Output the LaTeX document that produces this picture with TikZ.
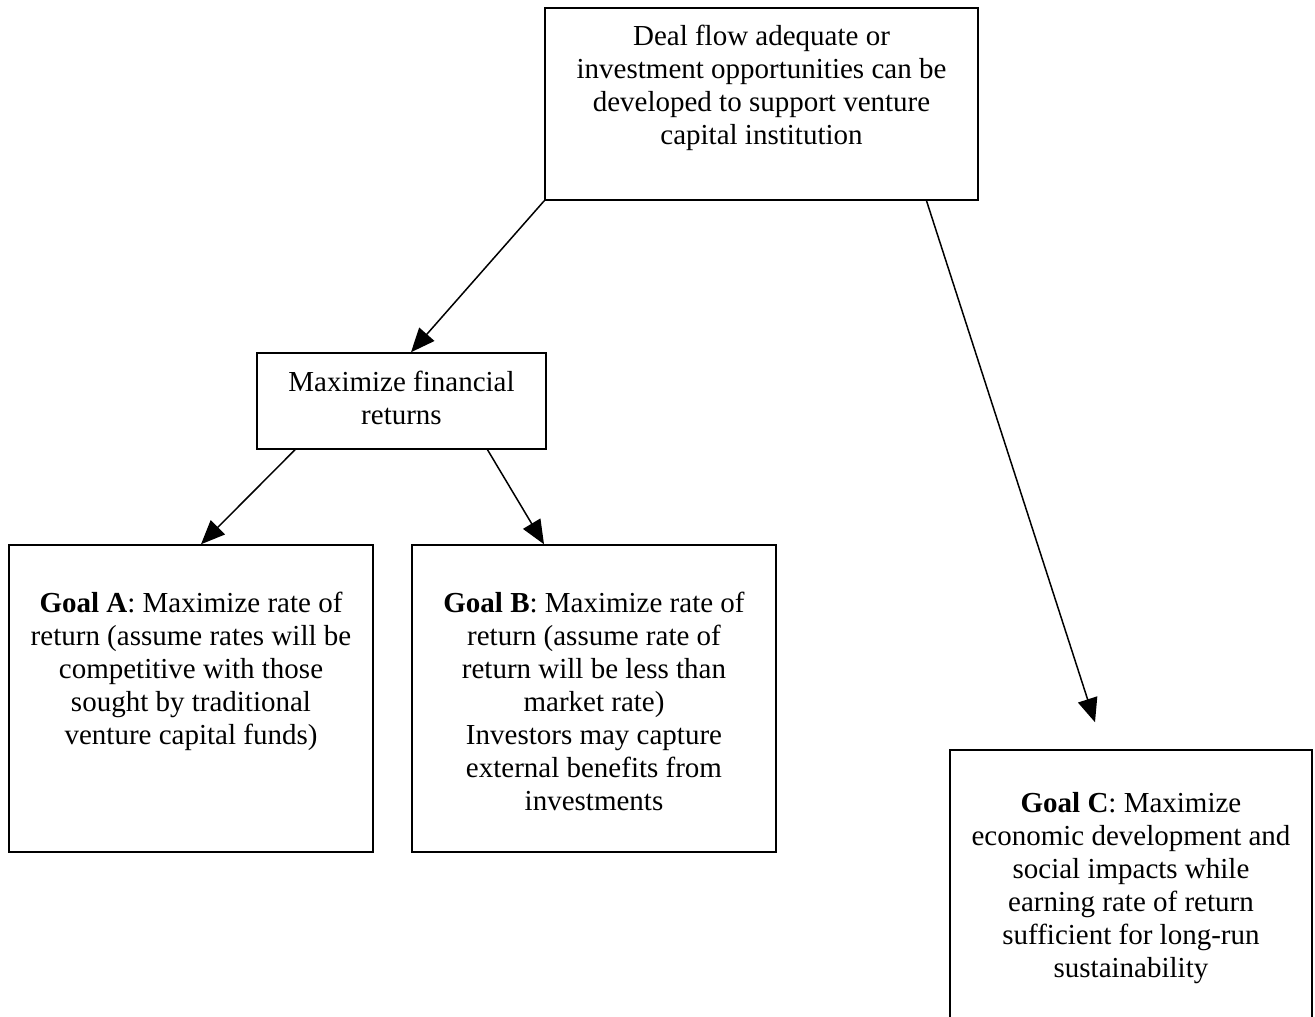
\documentclass[tikz,border=0pt]{standalone}
\usepackage{fontspec}
\setmainfont{Liberation Serif}
\usetikzlibrary{arrows.meta}
\newcommand{\fl}{\rule{0pt}{21pt}}
\begin{document}
\begin{tikzpicture}[x=1pt,y=-1pt,
  box/.style={draw=black,line width=1.5pt,rectangle,inner sep=0pt},
  txt/.style={anchor=north,inner sep=0pt,align=center,font=\fontsize{29}{33}\selectfont},
  arr/.style={draw=black,line width=1.5pt,-{Triangle[length=24pt,width=20pt]}}]
\useasboundingbox (0,0) rectangle (1315,1017);
% boxes
\node[box,minimum width=433pt,minimum height=192pt] (top) at (761.5,104) {};
\node[box,minimum width=289pt,minimum height=96pt] (max) at (401.5,401) {};
\node[box,minimum width=364pt,minimum height=307pt] (ga) at (191,698.5) {};
\node[box,minimum width=364pt,minimum height=307pt] (gb) at (594,698.5) {};
\node[box,minimum width=362pt,minimum height=272pt] (gc) at (1131,886) {};
% texts
\node[txt] (topt) at (761.5,24) {\fl Deal flow adequate or\\investment opportunities can be\\developed to support venture\\capital institution};
\node[txt] (maxt) at (401.5,370) {\fl Maximize financial\\returns};
\node[txt] (gat) at (191,591) {\fl\textbf{Goal A}: Maximize rate of\\return (assume rates will be\\competitive with those\\sought by traditional\\venture capital funds)};
\node[txt] (gbt) at (594,591) {\fl\textbf{Goal B}: Maximize rate of\\return (assume rate of\\return will be less than\\market rate)\\Investors may capture\\external benefits from\\investments};
\node[txt] (gct) at (1131,791) {\fl\textbf{Goal C}: Maximize\\economic development and\\social impacts while\\earning rate of return\\sufficient for long-run\\sustainability};
% connectors
\draw[arr] (top.south west) -- ([xshift=9.5pt]max.north);
\draw[arr] ([xshift=165pt]top.south) -- ([xshift=-36pt,yshift=27pt]gc.north);
\draw[arr] ([xshift=-106.5pt]max.south) -- ([xshift=10pt]ga.north);
\draw[arr] ([xshift=86pt]max.south) -- ([xshift=-50pt]gb.north);
\end{tikzpicture}
\end{document}
